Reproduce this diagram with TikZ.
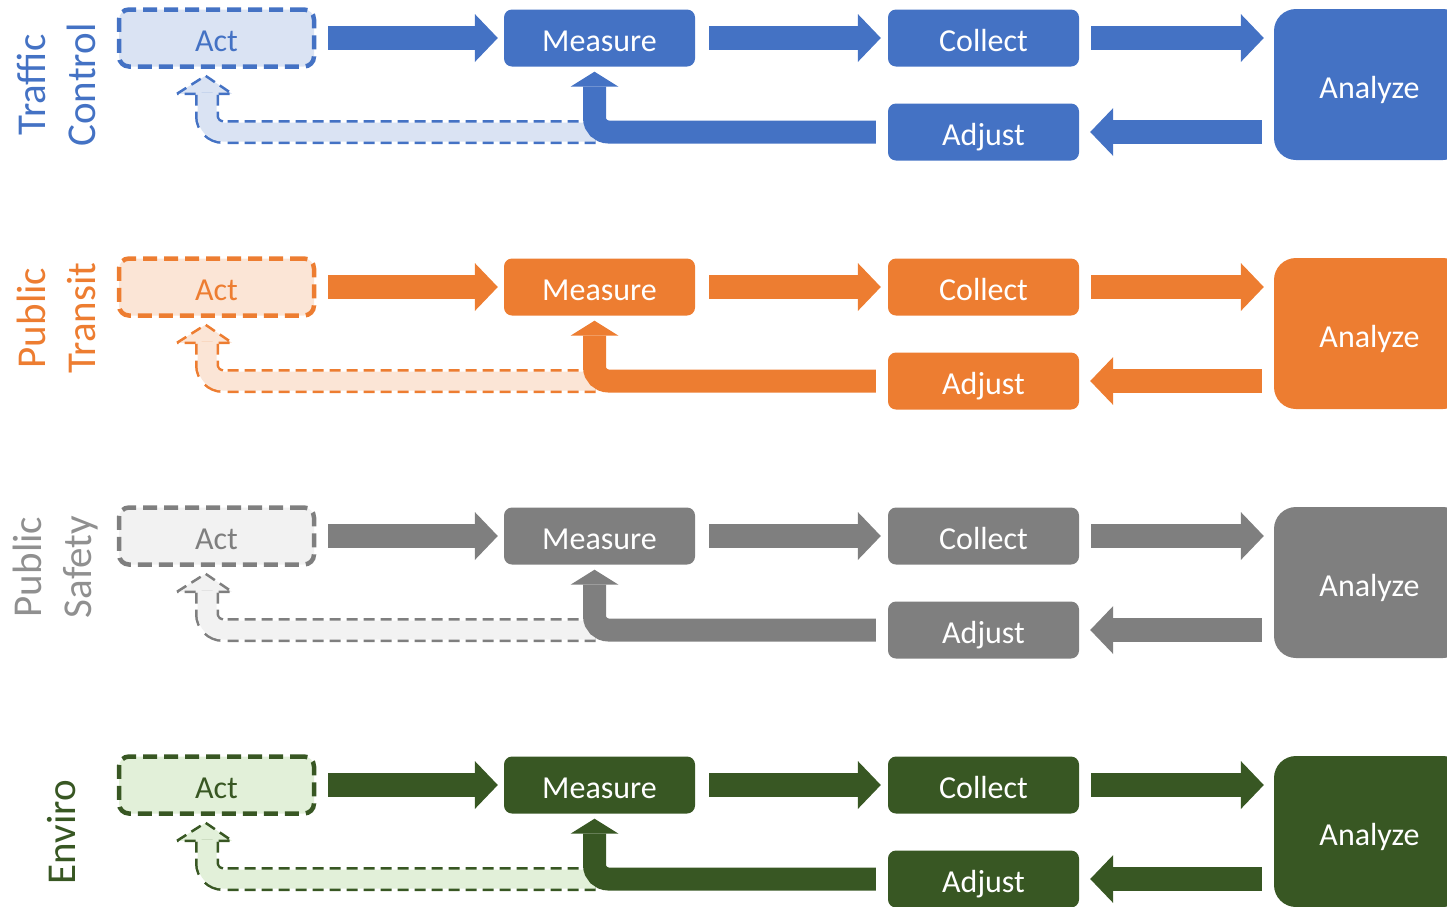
\documentclass[tikz,border=0pt]{standalone}
\usepackage{fontspec}
\setmainfont{Carlito}
\usetikzlibrary{arrows.meta,calc}

\definecolor{trafficblue}{HTML}{4472C4}
\definecolor{trafficblueL}{HTML}{DAE3F3}
\definecolor{transitorange}{HTML}{ED7D31}
\definecolor{transitorangeL}{HTML}{FBE5D6}
\definecolor{safetygray}{HTML}{7F7F7F}
\definecolor{safetygrayL}{HTML}{F2F2F2}
\definecolor{safetygrayT}{HTML}{909090}
\definecolor{envirogreen}{HTML}{385723}
\definecolor{envirogreenL}{HTML}{E2F0D9}

\tikzset{
  box/.style={rounded corners=8pt,minimum width=191pt,minimum height=57pt,inner sep=0pt,
    text height=27pt,text depth=0pt,text=white,font=\fontsize{32}{38}\selectfont},
  actbox/.style={box,minimum width=195pt,line width=4.5pt,dash pattern=on 14pt off 7pt,rounded corners=10pt},
  bigarrow/.style={line width=24pt,-{Triangle[length=23pt 0 0,width=48pt 0 0,line width=0pt 0 0]}},
  uarrow/.style={line width=23pt,rounded corners=14pt,-{Triangle[length=15pt 0 0,width=48pt 0 0,line width=0pt 0 0]}},
  rowlabel/.style={rotate=90,align=center,font=\fontsize{41}{50}\selectfont},
}

\begin{document}
\begin{tikzpicture}[x=1pt,y=-1pt]
  \useasboundingbox (0,0) rectangle (1447,906);
  \clip (0,0) rectangle (1447,906);

  \foreach \r/\col/\lcol/\lbl/\lx/\ly in {0/trafficblue/trafficblue/{Traffic\\Control}/56/85,
      1/transitorange/transitorange/{Public\\Transit}/56/69,
      2/safetygray/safetygrayT/{Public\\Safety}/56/69,
      3/envirogreen/envirogreen/Enviro/62/85}
  {
  \begin{scope}[yshift={-249*\r}]
    \node[rowlabel,text=\lcol] (lbl\r) at (\lx,\ly) {\lbl};

    \node[actbox,draw=\col,fill=\col L,text=\col] (act\r) at (216.5,38) {Act};
    \node[box,fill=\col] (meas\r) at (599.5,38) {Measure};
    \node[box,fill=\col] (coll\r) at (983.5,38) {Collect};
    \node[box,fill=\col,minimum height=151pt,rounded corners=22pt] (anal\r) at (1369.5,84.5) {Analyze};
    \node[box,fill=\col] (adj\r) at (983.5,132) {Adjust};

    \draw[bigarrow,color=\col,shorten <=12pt,shorten >=6pt] (act\r.east) -- (meas\r.west);
    \draw[bigarrow,color=\col,shorten <=14pt,shorten >=7pt] (meas\r.east) -- (coll\r.west);
    \draw[bigarrow,color=\col,shorten <=12pt,shorten >=10pt] (coll\r.east) -- (coll\r.east -| anal\r.west);
    \draw[bigarrow,color=\col,shorten <=12pt,shorten >=11pt] (anal\r.west |- adj\r.east) -- (adj\r.east);

    \coordinate (fb\r) at ([xshift=-9.5pt,yshift=-25pt]act\r.south);
    \draw[color=\col,fill=\col L,line width=2.5pt,dash pattern=on 11pt off 6pt]
      ($(fb\r)+(-30,0)$) -- ($(fb\r)+(-1.5,-18)$) -- ($(fb\r)+(25,0)$) -- cycle;
    \draw[line width=24pt,color=\col,dash pattern=on 11pt off 6pt,rounded corners=16pt]
      ([xshift=-4pt]meas\r.south |- adj\r.west) -| (fb\r);
    \draw[line width=19pt,color=\col L,rounded corners=16pt]
      ([xshift=-4pt]meas\r.south |- adj\r.west) -| ([yshift=1.5pt]fb\r);

    \draw[uarrow,color=\col,shorten <=12pt,shorten >=5pt] (adj\r.west) -| ([xshift=-5pt]meas\r.south);
  \end{scope}
  }
\end{tikzpicture}
\end{document}
